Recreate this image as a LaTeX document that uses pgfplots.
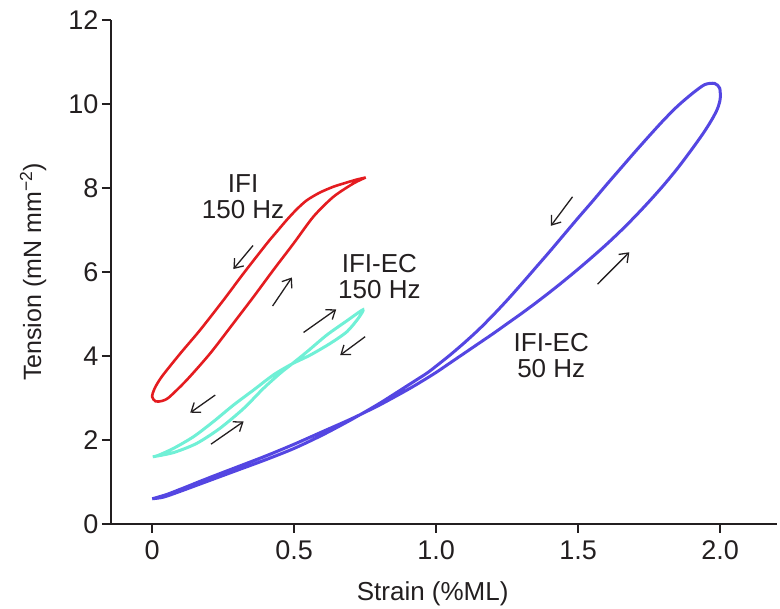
\documentclass[border=0pt]{standalone}
\usepackage{fontspec}
\setmainfont{Liberation Sans}
\usepackage{pgfplots}
\pgfplotsset{compat=1.18}
\usetikzlibrary{arrows.meta}
\definecolor{cred}{RGB}{228,28,32}
\definecolor{ccyan}{RGB}{112,240,214}
\definecolor{cblue}{RGB}{84,70,226}
\definecolor{ctext}{RGB}{35,31,32}
\begin{document}
\begin{tikzpicture}
\useasboundingbox (-111pt,-85pt) rectangle (669pt,524pt);
\begin{axis}[
  name=ax,
  at={(0,0)}, anchor=south west,
  width=666pt, height=504pt, scale only axis,
  xmin=-0.145, xmax=2.2, ymin=0, ymax=12,
  axis x line=bottom, axis y line=left,
  axis line style={-, line width=1.5pt, ctext},
  every tick/.style={line width=1.5pt, ctext},
  tick align=outside, major tick length=9pt,
  xtick={0,0.5,1,1.5,2}, xticklabels={0,0.5,1.0,1.5,2.0},
  ytick={0,2,4,6,8,10,12},
  /pgf/number format/assume math mode=true,
  tick label style={font=\fontsize{27}{32}\selectfont, text=ctext},
  xticklabel style={yshift=-4pt},
  xlabel={Strain (\%ML)},
  ylabel={Tension (mN mm\textsuperscript{−2})},
  xlabel style={font=\fontsize{26}{31}\selectfont, text=ctext, at={(axis description cs:0.483,-0.151)}, anchor=base},
  ylabel style={font=\fontsize{25}{30}\selectfont, text=ctext, at={(axis description cs:-0.117,0.5)}, anchor=center},
  clip=false,
]
% IFI 150 Hz (red)
\addplot[cred, line width=2.6pt, smooth, tension=0.45] coordinates {
(0.752,8.25) (0.720,8.20) (0.680,8.12) (0.638,8.03) (0.590,7.89) (0.545,7.71)
(0.510,7.50) (0.474,7.24) (0.440,6.97) (0.404,6.68)
(0.322,5.97) (0.251,5.33) (0.169,4.62) (0.099,4.06) (0.034,3.51) (0.008,3.22)
(0.000,3.03) (0.012,2.92) (0.035,2.93) (0.060,3.02) (0.122,3.43) (0.204,4.06)
(0.286,4.78) (0.357,5.41) (0.427,6.05) (0.498,6.68) (0.568,7.32) (0.638,7.79)
(0.709,8.11) (0.752,8.25)
};
% IFI-EC 150 Hz (cyan)
\addplot[ccyan, line width=3pt, smooth, tension=0.45] coordinates {
(0.002,1.60) (0.075,1.70) (0.157,1.92) (0.239,2.28) (0.322,2.75) (0.392,3.23)
(0.451,3.59) (0.492,3.81) (0.545,4.10) (0.615,4.50) (0.686,4.84) (0.742,5.10)
(0.726,4.90) (0.686,4.58) (0.627,4.30) (0.556,4.02) (0.492,3.81) (0.427,3.55)
(0.357,3.19) (0.286,2.83) (0.216,2.44) (0.146,2.08) (0.075,1.80) (0.020,1.63)
(0.002,1.60)
};
% IFI-EC 50 Hz (blue)
\addplot[cblue, line width=3pt, smooth, tension=0.45] coordinates {
(0.000,0.60) (0.050,0.70) (0.100,0.83) (0.200,1.10) (0.300,1.36) (0.400,1.62)
(0.500,1.90) (0.600,2.20) (0.700,2.50) (0.800,2.83) (0.900,3.20) (0.950,3.40)
(1.000,3.61) (1.050,3.84) (1.100,4.07) (1.150,4.30) (1.200,4.53) (1.250,4.77)
(1.300,5.01) (1.350,5.26) (1.400,5.52) (1.450,5.79) (1.500,6.07) (1.550,6.36)
(1.600,6.66) (1.650,6.98) (1.700,7.32) (1.750,7.68) (1.800,8.06) (1.850,8.47)
(1.900,8.92) (1.940,9.30) (1.970,9.62) (1.990,9.88) (2.000,10.12) (1.998,10.38)
(1.980,10.49) (1.945,10.46)
(1.900,10.24) (1.850,9.95) (1.800,9.61) (1.750,9.24) (1.700,8.86) (1.650,8.47)
(1.600,8.08) (1.550,7.68) (1.500,7.29) (1.450,6.89) (1.400,6.49) (1.350,6.10)
(1.300,5.71) (1.250,5.33) (1.200,4.97) (1.150,4.63) (1.100,4.32) (1.050,4.03)
(1.000,3.76) (0.967,3.59) (0.900,3.30) (0.800,2.87) (0.700,2.48)
(0.600,2.12) (0.500,1.80) (0.400,1.53) (0.300,1.28) (0.200,1.03) (0.100,0.78)
(0.040,0.64) (0.000,0.60)
};
% arrows
\begin{scope}[ctext, line width=1.3pt, -{Straight Barb[length=8pt,width=12pt]}]
\draw (axis cs:0.355,6.63) -- (axis cs:0.286,6.07);
\draw (axis cs:0.424,5.19) -- (axis cs:0.492,5.87);
\draw (axis cs:0.533,4.56) -- (axis cs:0.648,5.11);
\draw (axis cs:0.750,4.46) -- (axis cs:0.662,4.02);
\draw (axis cs:0.222,3.07) -- (axis cs:0.134,2.65);
\draw (axis cs:0.207,1.90) -- (axis cs:0.322,2.44);
\draw (axis cs:1.480,7.79) -- (axis cs:1.404,7.10);
\draw (axis cs:1.568,5.71) -- (axis cs:1.680,6.47);
\end{scope}
% labels
\node[align=center, text=ctext, font=\fontsize{26}{26}\selectfont] at (axis cs:0.32,7.80) {IFI\\150 Hz};
\node[align=center, text=ctext, font=\fontsize{26}{26}\selectfont] at (axis cs:0.80,5.89) {IFI-EC\\150 Hz};
\node[align=center, text=ctext, font=\fontsize{26}{26}\selectfont] at (axis cs:1.405,4.00) {IFI-EC\\50 Hz};
\end{axis}
\end{tikzpicture}
\end{document}
